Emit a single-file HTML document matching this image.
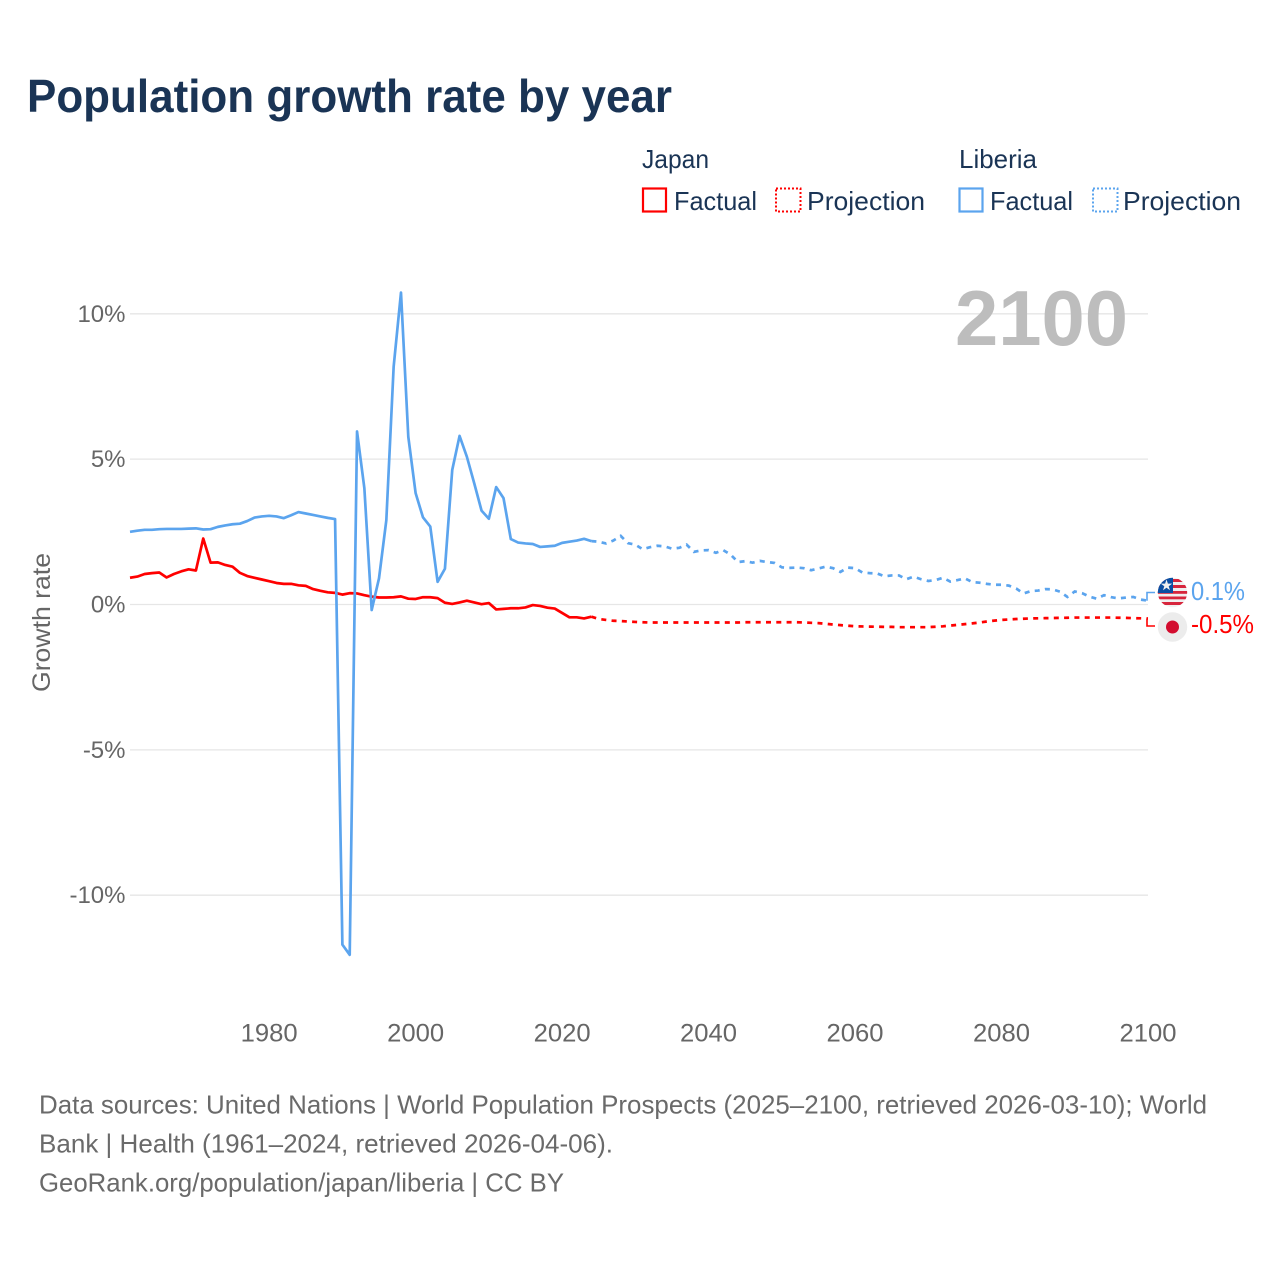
<!DOCTYPE html>
<html lang="en">
<head>
<meta charset="utf-8">
<title>Population growth rate by year</title>
<style>
html,body{margin:0;padding:0;background:#fff;width:1280px;height:1280px;overflow:hidden}
svg{display:block}
text{font-family:"Liberation Sans",sans-serif}
.tick{font-size:24px;fill:#666}
.xtick{font-size:25px;fill:#666}
.leg{font-size:26px;fill:#1a3455}
.foot{font-size:26px;fill:#6a6a6a}
</style>
</head>
<body>
<svg id="chart" xmlns="http://www.w3.org/2000/svg" width="1280" height="1280" viewBox="0 0 1280 1280">
  <rect x="0" y="0" width="1280" height="1280" fill="#fff"/>
  <text x="27" y="112" font-size="46" font-weight="700" fill="#1a3455" textLength="645" lengthAdjust="spacingAndGlyphs">Population growth rate by year</text>

  <g>
    <text class="leg" x="642" y="168" textLength="67" lengthAdjust="spacingAndGlyphs">Japan</text>
    <text class="leg" x="959" y="168" textLength="78" lengthAdjust="spacingAndGlyphs">Liberia</text>
    <rect x="643" y="188.500" width="23" height="23" fill="none" stroke="#ff0000" stroke-width="2.200"/>
    <text class="leg" x="674" y="210" textLength="83" lengthAdjust="spacingAndGlyphs">Factual</text>
    <rect x="776" y="188.500" width="24.500" height="23" fill="none" stroke="#ff0000" stroke-width="2" stroke-dasharray="2 2"/>
    <text class="leg" x="807" y="210" textLength="118" lengthAdjust="spacingAndGlyphs">Projection</text>
    <rect x="959.500" y="188.500" width="23" height="23" fill="none" stroke="#5ba4ee" stroke-width="2.200"/>
    <text class="leg" x="990" y="210" textLength="83" lengthAdjust="spacingAndGlyphs">Factual</text>
    <rect x="1093" y="188.500" width="24.500" height="23" fill="none" stroke="#5ba4ee" stroke-width="2" stroke-dasharray="2 2"/>
    <text class="leg" x="1123" y="210" textLength="118" lengthAdjust="spacingAndGlyphs">Projection</text>
  </g>

  <g id="grid"></g>
  <g id="yticks"></g>
  <g id="xticks"></g>
  <text transform="translate(50,692) rotate(-90)" x="0" y="0" font-size="25" fill="#666" textLength="139" lengthAdjust="spacingAndGlyphs">Growth rate</text>
  <text id="year-label" x="955" y="345" font-size="78" font-weight="700" fill="#bdbdbd" textLength="173" lengthAdjust="spacingAndGlyphs">2100</text>
  <g id="series"></g>

  <g>
    <clipPath id="lib-clip"><circle cx="1172.500" cy="592.500" r="14.700"/></clipPath>
    <g clip-path="url(#lib-clip)">
      <rect x="1157" y="577" width="31" height="31" fill="#f0f0f0"/>
      <rect x="1157" y="579" width="31" height="3" fill="#d7263d"/>
      <rect x="1157" y="585" width="31" height="3" fill="#d7263d"/>
      <rect x="1157" y="591" width="31" height="2.800" fill="#d7263d"/>
      <rect x="1157" y="596.500" width="31" height="2.800" fill="#d7263d"/>
      <rect x="1157" y="602" width="31" height="3" fill="#d7263d"/>
      <rect x="1157" y="577" width="16" height="16" fill="#0b4ea2"/>
      <polygon points="1166.500,579.500 1167.900,583.600 1172.200,583.600 1168.700,586.200 1170,590.300 1166.500,587.800 1163,590.300 1164.300,586.200 1160.800,583.600 1165.100,583.600" fill="#f0f0f0"/>
    </g>
  </g>
  <g>
    <circle cx="1172.500" cy="627" r="14.700" fill="#ececec"/>
    <circle cx="1172.500" cy="627" r="6.500" fill="#d30d2f"/>
  </g>
  <text id="label-liberia" x="1191" y="600" font-size="26" fill="#5ba4ee" textLength="54" lengthAdjust="spacingAndGlyphs">0.1%</text>
  <text id="label-japan" x="1191" y="633" font-size="26" fill="#ff0000" textLength="63" lengthAdjust="spacingAndGlyphs">-0.5%</text>

  <g>
    <text class="foot" x="39" y="1113.500" textLength="1168" lengthAdjust="spacingAndGlyphs">Data sources: United Nations | World Population Prospects (2025–2100, retrieved 2026-03-10); World</text>
    <text class="foot" x="39" y="1152.500" textLength="574" lengthAdjust="spacingAndGlyphs">Bank | Health (1961–2024, retrieved 2026-04-06).</text>
    <text class="foot" x="39" y="1191.500" textLength="525" lengthAdjust="spacingAndGlyphs">GeoRank.org/population/japan/liberia | CC BY</text>
  </g>
</svg>
<script>
const factualStartYear = 1961;
const projectionStartYear = 2024;
const xTickLabels = [1980, 2000, 2020, 2040, 2060, 2080, 2100];
const yTickValues = [10, 5, 0, -5, -10];
const yTickLabels = ["10%", "5%", "0%", "-5%", "-10%"];
const japanFactual = [0.92,0.96,1.05,1.08,1.10,0.93,1.05,1.14,1.21,1.17,2.27,1.44,1.45,1.36,1.30,1.09,0.98,0.92,0.86,0.80,0.74,0.71,0.71,0.66,0.64,0.53,0.47,0.42,0.40,0.34,0.39,0.38,0.32,0.27,0.24,0.24,0.25,0.28,0.20,0.19,0.25,0.25,0.22,0.06,0.02,0.07,0.13,0.07,0.01,0.05,-0.17,-0.15,-0.13,-0.13,-0.10,-0.02,-0.05,-0.11,-0.14,-0.29,-0.44,-0.44,-0.48,-0.42];
const liberiaFactual = [2.50,2.54,2.57,2.57,2.59,2.60,2.60,2.60,2.61,2.62,2.58,2.59,2.67,2.72,2.76,2.78,2.87,2.99,3.03,3.05,3.03,2.97,3.07,3.18,3.13,3.08,3.03,2.98,2.94,-11.7,-12.05,5.95,4.0,-0.19,0.9,2.9,8.18,10.73,5.77,3.83,3.0,2.68,0.78,1.23,4.63,5.8,5.08,4.17,3.23,2.95,4.04,3.66,2.25,2.13,2.10,2.08,1.98,2.00,2.02,2.12,2.16,2.20,2.26,2.18];
const japanProjection = [-0.42,-0.50,-0.53,-0.56,-0.57,-0.585,-0.60,-0.61,-0.62,-0.62,-0.62,-0.62,-0.62,-0.62,-0.62,-0.62,-0.62,-0.62,-0.62,-0.62,-0.62,-0.61,-0.61,-0.61,-0.61,-0.61,-0.61,-0.61,-0.61,-0.62,-0.63,-0.64,-0.665,-0.69,-0.71,-0.73,-0.75,-0.755,-0.76,-0.765,-0.77,-0.77,-0.78,-0.78,-0.78,-0.78,-0.78,-0.765,-0.75,-0.725,-0.70,-0.675,-0.65,-0.62,-0.585,-0.555,-0.53,-0.515,-0.50,-0.49,-0.48,-0.475,-0.47,-0.465,-0.46,-0.455,-0.45,-0.45,-0.45,-0.45,-0.45,-0.45,-0.455,-0.46,-0.47,-0.475,-0.48];
const liberiaProjection = [2.18,2.16,2.10,2.20,2.36,2.11,2.06,1.90,1.97,2.02,2.00,1.92,1.95,2.06,1.81,1.86,1.87,1.78,1.87,1.72,1.46,1.49,1.44,1.50,1.46,1.43,1.28,1.26,1.27,1.25,1.18,1.24,1.30,1.25,1.12,1.27,1.25,1.10,1.08,1.07,0.97,1.00,1.00,0.87,0.96,0.87,0.81,0.84,0.92,0.79,0.84,0.90,0.77,0.75,0.71,0.68,0.68,0.65,0.55,0.38,0.46,0.48,0.53,0.52,0.44,0.26,0.45,0.39,0.27,0.20,0.32,0.25,0.21,0.24,0.26,0.17,0.13];
const japanEndValue = -0.5;
const liberiaEndValue = 0.1;

const NS = "http://www.w3.org/2000/svg";
const BLUE = "#5ba4ee";
const RED = "#ff0000";
const xMinYear = 1961, xMaxYear = 2100, xLeft = 130, xRight = 1148;
const yZero = 604.5, yPerPercent = 29.07;
function xScale(year) { return xLeft + (year - xMinYear) * (xRight - xLeft) / (xMaxYear - xMinYear); }
function yScale(v) { return yZero - v * yPerPercent; }
function make(tag, attrs, parent) {
  const el = document.createElementNS(NS, tag);
  for (const k in attrs) el.setAttribute(k, attrs[k]);
  parent.appendChild(el);
  return el;
}
function linePath(values, startYear) {
  return values.map(function (v, i) {
    return (i ? "L" : "M") + xScale(startYear + i).toFixed(2) + " " + yScale(v).toFixed(2);
  }).join(" ");
}
const gridG = document.getElementById("grid");
const yG = document.getElementById("yticks");
const xG = document.getElementById("xticks");
const seriesG = document.getElementById("series");

yTickValues.forEach(function (v, i) {
  const gl = make("line", { x1: xLeft, x2: xRight, y1: yScale(v), y2: yScale(v), stroke: "#e6e6e6", "stroke-width": 1.3 }, gridG);
  
  
  const t = make("text", { x: 125.5, y: yScale(v) + 8, "text-anchor": "end", class: "tick" }, yG);
  t.textContent = yTickLabels[i];
  
  
});
xTickLabels.forEach(function (year) {
  const t = make("text", { x: xScale(year), y: 1041.5, "text-anchor": "middle", class: "xtick", textLength: 57, lengthAdjust: "spacingAndGlyphs" }, xG);
  t.textContent = String(year);
  
  
});

const japanLine = make("path", { d: linePath(japanFactual, factualStartYear), fill: "none", stroke: RED, "stroke-width": 2.7, "stroke-linejoin": "round" }, seriesG);


const liberiaLine = make("path", { d: linePath(liberiaFactual, factualStartYear), fill: "none", stroke: BLUE, "stroke-width": 2.7, "stroke-linejoin": "round" }, seriesG);


const japanProj = make("path", { d: linePath(japanProjection, projectionStartYear), fill: "none", stroke: RED, "stroke-width": 2.7, "stroke-dasharray": "5 5.3" }, seriesG);


const liberiaProj = make("path", { d: linePath(liberiaProjection, projectionStartYear), fill: "none", stroke: BLUE, "stroke-width": 2.7, "stroke-dasharray": "5 5.3" }, seriesG);



function connector(lastValue, endY, color) {
  const x0 = xScale(xMaxYear), y0 = yScale(lastValue);
  return make("path", { d: "M" + (x0 - 1) + " " + y0 + " L" + (x0 - 1) + " " + endY + " L" + (x0 + 7) + " " + endY, fill: "none", stroke: color, "stroke-width": 1.6 }, seriesG);
}
const libConn = connector(liberiaProjection[liberiaProjection.length - 1], 592.5, BLUE);


const japConn = connector(japanProjection[japanProjection.length - 1], 626, RED);



document.getElementById("label-liberia").textContent = liberiaEndValue.toFixed(1) + "%";
document.getElementById("label-japan").textContent = japanEndValue.toFixed(1) + "%";
</script>
</body>
</html>
